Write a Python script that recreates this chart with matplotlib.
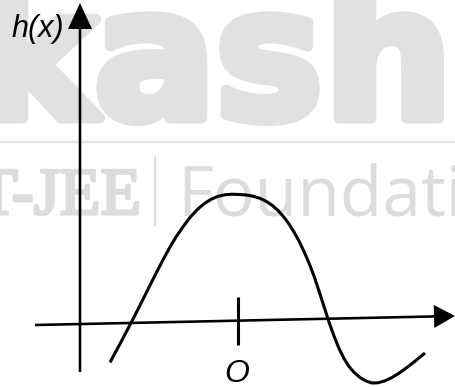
import matplotlib.pyplot as plt
import matplotlib.patheffects as pe

# sketch of h(x): points, in pixels (x right, y down)
curve_px = [110, 116, 122, 128, 134, 140, 146, 152, 158, 164, 170, 176, 183, 190,
            197, 204, 211, 218, 225, 232, 239, 246, 253, 260, 266, 272, 278, 284,
            289, 294, 299, 304, 309, 314, 319, 324, 329, 334, 339, 344, 349, 354,
            360, 366, 372, 378, 385, 392, 399, 406, 413, 420, 425]
curve_py = [362.4, 351.3, 340.1, 328.7, 317.1, 305.3, 293.3, 281.3, 269.5, 258.0,
            247.0, 237.0, 226.8, 217.5, 209.8, 203.8, 199.3, 196.3, 194.8, 194.2,
            194.5, 195.0, 196.2, 198.3, 201.2, 205.2, 210.5, 217.2, 224.0, 232.0,
            241.0, 251.5, 263.0, 276.0, 291.0, 306.5, 322.0, 336.0, 348.5, 358.5,
            366.5, 372.3, 377.5, 381.0, 383.0, 382.8, 380.8, 377.5, 373.2, 368.2,
            362.8, 357.1, 353.0]

y_label = "h(x)"
origin_label = "O"

# background watermark
brand_letters = ["k", "a", "s", "h"]
brand_x = [96, 155, 269, 324]
brand_align = ["right", "center", "center", "left"]
tag_left = "T-JEE"
tag_right = "Foundation"

W, H = 456, 387
X0, Y0 = 238, 322   # pixel position of O

fig = plt.figure(figsize=(W / 100, H / 100), dpi=100)
ax = fig.add_axes([0, 0, 1, 1])
ax.set_xlim(-X0, W - X0)
ax.set_ylim(Y0 - H, Y0)
ax.axis("off")

curve_x = [p - X0 for p in curve_px]
curve_h = [Y0 - p for p in curve_py]

# watermark
wm = "#e1e1e1"
heavy = [pe.withStroke(linewidth=8, foreground=wm)]
for ch, px, al in zip(brand_letters, brand_x, brand_align):
    ax.text(px - X0, Y0 - 118, ch, fontsize=130, fontweight="bold",
            family="DejaVu Sans", color=wm, ha=al, va="baseline", zorder=0,
            path_effects=heavy)
ax.plot([-X0, W - X0], [Y0 - 142, Y0 - 142], color="#e3e3e3", lw=1.5, zorder=0)
tag = "#dcdcdc"
ax.text(141 - X0, Y0 - 214, tag_left, fontsize=48, family="Liberation Serif",
        color=tag, ha="right", va="baseline", zorder=0,
        path_effects=[pe.withStroke(linewidth=2.2, foreground=tag)])
ax.plot([155 - X0, 155 - X0], [Y0 - 157, Y0 - 225], color=tag, lw=1.5, zorder=0)
ax.text(177 - X0, Y0 - 215, tag_right, fontsize=50, family="Open Sans",
        color=tag, ha="left", va="baseline", zorder=0)

# axes arrows
ax.arrow(80 - X0, Y0 - 372, 0, 369, width=2.6, head_width=24, head_length=26,
         length_includes_head=True, color="black", lw=0, zorder=2)
ax.arrow(35 - X0, Y0 - 325, 420, 9, width=2.6, head_width=23, head_length=21,
         length_includes_head=True, color="black", lw=0, zorder=2)

# tick at the origin
ax.plot([0, 0], [25, -23], color="black", lw=2.2, solid_capstyle="butt", zorder=2)

# the curve
ax.plot(curve_x, curve_h, color="black", lw=2.2, solid_joinstyle="round",
        solid_capstyle="butt", zorder=3)

ax.text(11 - X0, Y0 - 37, y_label, fontsize=22, style="italic",
        family="Liberation Sans", ha="left", va="baseline")
ax.text(237 - X0, Y0 - 382, origin_label, fontsize=23, style="italic",
        family="Liberation Sans", ha="center", va="baseline")

fig.savefig("out.png", dpi=100)
